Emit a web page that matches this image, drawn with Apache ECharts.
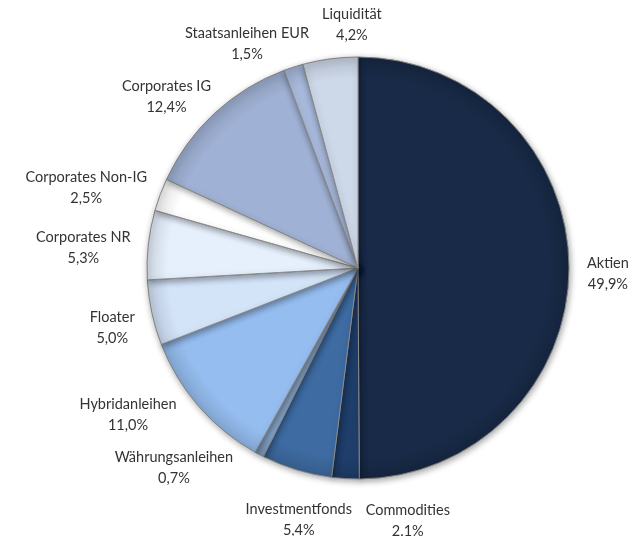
<!DOCTYPE html>
<html>
<head>
<meta charset="utf-8">
<script src="https://cdn.jsdelivr.net/npm/echarts@6/dist/echarts.min.js"></script>
<style>
  html, body { margin: 0; padding: 0; background: #fff; }
  #pieChart { width: 643px; height: 536px; }
</style>
</head>
<body>
<div id="pieChart"></div>
<script>
// Anteile im Uhrzeigersinn ab 12 Uhr
const categories = ['Aktien', 'Commodities', 'Investmentfonds', 'Währungsanleihen', 'Hybridanleihen',
  'Floater', 'Corporates NR', 'Corporates Non-IG', 'Corporates IG', 'Staatsanleihen EUR', 'Liquidität']
const values = [49.9, 2.1, 5.4, 0.7, 11.0, 5.0, 5.3, 2.5, 12.4, 1.5, 4.2]
const valueLabels = ['49,9%', '2.1%', '5,4%', '0,7%', '11,0%', '5,0%', '5,3%', '2,5%', '12,4%', '1,5%', '4,2%']

const sliceColors = ['#182a47', '#1f3e6a', '#3e6ba2', '#86a5ca', '#95bdef',
  '#d3e3f8', '#e6f0fc', '#ffffff', '#9fb1d4', '#a8badc', '#cdd8e9']

const cx = 358
const cy = 268
const radius = 211
const labelFont = '14.5px Lato'
const lineH = 21
const total = values.reduce((a, b) => a + b, 0)

// Mittelwinkel je Segment (Grad, ab 12 Uhr im Uhrzeigersinn)
const angles = []
let acc = 0
values.forEach(v => {
  angles.push((acc + v / 2) / total * 360)
  acc += v
})

// Textgrößen messen
const ctx = document.createElement('canvas').getContext('2d')
ctx.font = labelFont
const sizes = categories.map((name, i) => ({
  w: Math.max(ctx.measureText(name).width, ctx.measureText(valueLabels[i]).width),
  h: lineH * 2,
}))

const labelCenter = (i, deg) => {
  const a = deg * Math.PI / 180
  const s = Math.sin(a)
  const c = Math.cos(a)
  const d = radius + 18
  return {
    x: cx + (d + sizes[i].w / 2) * s,
    y: cy - (d + sizes[i].h / 2) * c + 7,
  }
}
const overlaps = (i, j) => {
  const p = labelCenter(i, angles[i])
  const q = labelCenter(j, angles[j])
  return Math.abs(p.x - q.x) < (sizes[i].w + sizes[j].w) / 2 + 12 &&
    Math.abs(p.y - q.y) < (sizes[i].h + sizes[j].h) / 2 + 10
}
// Beschriftungen entlang des Kreises auseinanderschieben
for (let k = 0; k < 2000; k++) {
  let moved = false
  for (let i = 0; i < categories.length - 1; i++) {
    if (overlaps(i, i + 1)) {
      angles[i] -= 0.2
      angles[i + 1] += 0.2
      moved = true
    }
  }
  if (!moved) break
}

const chart = echarts.init(document.getElementById('pieChart'))
const option = {
  backgroundColor: '#ffffff',
  animation: false,
  series: [
    {
      type: 'pie',
      center: [cx, cy],
      radius: [0, radius],
      startAngle: 90,
      clockwise: true,
      avoidLabelOverlap: false,
      data: categories.map((name, i) => ({
        name: name,
        value: values[i],
        itemStyle: { color: sliceColors[i] },
      })),
      itemStyle: {
        borderColor: '#8c8c8c',
        borderWidth: 1,
        shadowBlur: 6,
        shadowColor: 'rgba(0,0,0,0.35)',
        shadowOffsetX: 1,
        shadowOffsetY: 2,
      },
      label: {
        show: true,
        position: 'outside',
        formatter: p => p.name + '\n' + valueLabels[p.dataIndex],
        fontFamily: 'Lato',
        fontSize: 14.5,
        lineHeight: lineH,
        color: '#333333',
        align: 'center',
      },
      labelLine: { show: false },
      labelLayout: function (params) {
        const p = labelCenter(params.dataIndex, angles[params.dataIndex])
        return { x: p.x, y: p.y, align: 'center', verticalAlign: 'middle' }
      },
    },
    {
      // Randabdunklung
      type: 'pie',
      silent: true,
      center: [cx, cy],
      radius: [0, radius],
      label: { show: false },
      labelLine: { show: false },
      data: [{
        value: 1,
        itemStyle: {
          color: new echarts.graphic.RadialGradient(0.5, 0.5, 0.5, [
            { offset: 0, color: 'rgba(0,0,0,0)' },
            { offset: 0.9, color: 'rgba(0,0,0,0)' },
            { offset: 1, color: 'rgba(0,0,0,0.12)' },
          ]),
        },
      }],
    },
  ],
}
chart.setOption(option)
</script>
</body>
</html>
